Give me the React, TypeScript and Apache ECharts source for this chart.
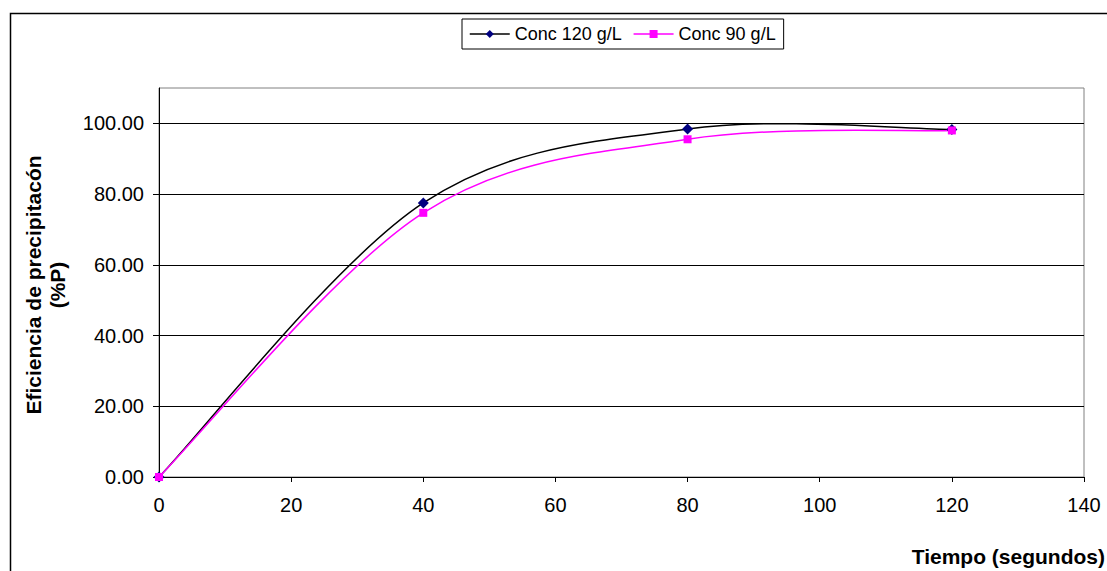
import React, { useEffect, useRef } from "react";
import * as echarts from "echarts";

const timeSeconds = [0, 40, 80, 120];
const conc120 = [0, 77.5, 98.4, 98.3];
const conc90 = [0, 74.7, 95.5, 98.0];
const seriesNames = ["Conc 120 g/L", "Conc 90 g/L"];
const yTickValues = [0, 20, 40, 60, 80, 100];
const xAxisTitle = "Tiempo (segundos)";
const yAxisTitle = "Eficiencia de precipitacón\n(%P)";

const FONT = "'Liberation Sans', Arial, sans-serif";

// Excel-style smoothed curve (Catmull-Rom Bezier) drawn through the axis scales
function smoothCurveSeries(values: number[], color: string) {
  const pts = timeSeconds.map((t, i) => [t, values[i]]);
  return {
    type: "custom",
    silent: true,
    clip: false,
    z: 2,
    data: pts,
    renderItem: (params: any, api: any) => {
      const i = params.dataIndex;
      const n = pts.length;
      if (i >= n - 1) return null;
      const P = (k: number) => api.coord(pts[Math.max(0, Math.min(n - 1, k))]);
      const p0 = P(i - 1);
      const p1 = P(i);
      const p2 = P(i + 1);
      const p3 = P(i + 2);
      return {
        type: "bezierCurve",
        shape: {
          x1: p1[0],
          y1: p1[1],
          x2: p2[0],
          y2: p2[1],
          cpx1: p1[0] + (p2[0] - p0[0]) / 6,
          cpy1: p1[1] + (p2[1] - p0[1]) / 6,
          cpx2: p2[0] - (p3[0] - p1[0]) / 6,
          cpy2: p2[1] - (p3[1] - p1[1]) / 6,
        },
        style: { fill: "none", stroke: color, lineWidth: 1.5 },
      };
    },
  };
}

export default function App() {
  const ref = useRef<HTMLDivElement>(null);
  useEffect(() => {
    if (!ref.current) return;
    const chart = echarts.init(ref.current, undefined, { renderer: "svg" });
    chart.setOption({
      animation: false,
      backgroundColor: "#ffffff",
      textStyle: { fontFamily: FONT },
      grid: {
        left: 159,
        right: 23,
        top: 88,
        bottom: 94,
        show: true,
        borderColor: "#808080",
        borderWidth: 1,
      },
      legend: {
        left: 462,
        top: 19,
        padding: [6, 8, 6, 7],
        borderColor: "#000",
        borderWidth: 1,
        itemWidth: 40,
        itemHeight: 10,
        itemGap: 11,
        textStyle: { fontSize: 18, color: "#000", fontFamily: FONT },
        data: [
          { name: seriesNames[0], lineStyle: { opacity: 1, color: "#000", width: 1.5 } },
          { name: seriesNames[1], lineStyle: { opacity: 1, color: "#ff00ff", width: 1.5 } },
        ],
      },
      xAxis: {
        type: "value",
        min: 0,
        max: 140,
        interval: 20,
        axisLine: { show: true, lineStyle: { color: "#000", width: 1 } },
        axisTick: { show: true, inside: false, length: 5, lineStyle: { color: "#000" } },
        axisLabel: { color: "#000", fontSize: 20, margin: 18, fontFamily: FONT },
        splitLine: { show: false },
      },
      yAxis: {
        type: "value",
        min: 0,
        max: 110,
        interval: 20,
        axisLine: { show: true, lineStyle: { color: "#000", width: 1 } },
        axisTick: {
          show: true,
          inside: false,
          length: 6,
          lineStyle: { color: "#000" },
          customValues: yTickValues,
        },
        axisLabel: {
          color: "#000",
          fontSize: 20,
          margin: 15,
          fontFamily: FONT,
          customValues: yTickValues,
          formatter: (v: number) => v.toFixed(2),
        },
        splitLine: {
          show: true,
          lineStyle: { color: "#000", width: 1 },
        },
      },
      graphic: [
        {
          type: "rect",
          left: 8,
          top: 11,
          shape: { x: 0, y: 0, width: 1200, height: 700 },
          style: { fill: "none", stroke: "#000", lineWidth: 1.5 },
          silent: true,
          z: -10,
        },
        {
          type: "text",
          x: 1105,
          y: 556,
          style: {
            text: xAxisTitle,
            font: `bold 21px ${FONT}`,
            fill: "#000",
            align: "right",
            verticalAlign: "middle",
          },
        },
        {
          type: "text",
          x: 45,
          y: 285,
          rotation: Math.PI / 2,
          style: {
            text: yAxisTitle,
            font: `bold 21px ${FONT}`,
            fill: "#000",
            align: "center",
            verticalAlign: "middle",
            lineHeight: 24,
          },
        },
      ],
      series: [
        smoothCurveSeries(conc120, "#000"),
        smoothCurveSeries(conc90, "#ff00ff"),
        {
          name: seriesNames[0],
          type: "line",
          z: 3,
          data: timeSeconds.map((t, i) => [t, conc120[i]]),
          symbol: "diamond",
          symbolSize: 11,
          showAllSymbol: true,
          itemStyle: { color: "#000080" },
          lineStyle: { color: "#000", width: 1.5, opacity: 0 },
        },
        {
          name: seriesNames[1],
          type: "line",
          z: 3,
          data: timeSeconds.map((t, i) => [t, conc90[i]]),
          symbol: "rect",
          symbolSize: 8,
          showAllSymbol: true,
          itemStyle: { color: "#ff00ff" },
          lineStyle: { color: "#ff00ff", width: 1.5, opacity: 0 },
        },
      ],
    });
    return () => chart.dispose();
  }, []);
  return (
    <div
      ref={ref}
      style={{ position: "fixed", left: 0, top: 0, width: 1107, height: 571 }}
    />
  );
}
